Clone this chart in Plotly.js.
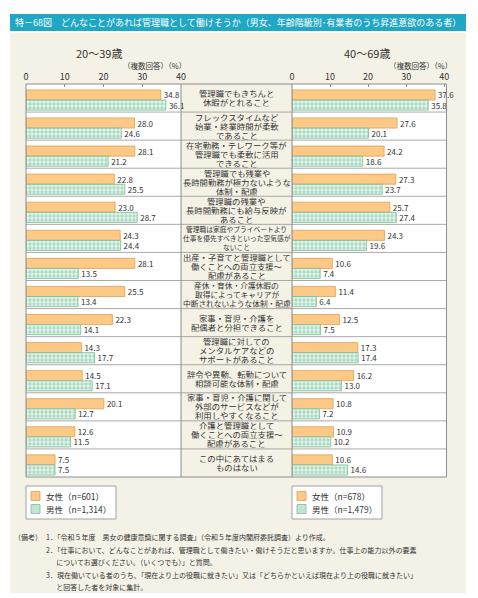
<!DOCTYPE html>
<html><head><meta charset="utf-8">
<script src="https://cdn.plot.ly/plotly-3.0.1.min.js"></script>
<style>html,body{margin:0;padding:0;background:#fff}</style>
</head><body><div id="chart" style="width:478px;height:598px"></div>
<script>
const chartTitle = '特－68図　どんなことがあれば管理職として働けそうか（男女、年齢階級別･有業者のうち昇進意欲のある者）';
const groupTitles = ['20～39歳', '40～69歳'];
const unitLabel = '（複数回答）（%）';
const categories = [
  '管理職でもきちんと<br>休暇がとれること',
  'フレックスタイムなど<br>始業・終業時間が柔軟<br>であること',
  '在宅勤務・テレワーク等が<br>管理職でも柔軟に活用<br>できること',
  '管理職でも残業や<br>長時間勤務が極力ないような<br>体制・配慮',
  '管理職の残業や<br>長時間勤務にも給与反映が<br>あること',
  '管理職は家庭やプライベートより<br>仕事を優先すべきといった空気感が<br>ないこと',
  '出産・子育てと管理職として<br>働くことへの両立支援～<br>配慮があること',
  '産休・育休・介護休暇の<br>取得によってキャリアが<br>中断されないような体制・配慮',
  '家事・育児・介護を<br>配偶者と分担できること',
  '管理職に対しての<br>メンタルケアなどの<br>サポートがあること',
  '辞令や異動、転勤について<br>相談可能な体制・配慮',
  '家事・育児・介護に関して<br>外部のサービスなどが<br>利用しやすくなること',
  '介護と管理職として<br>働くことへの両立支援～<br>配慮があること',
  'この中にあてはまる<br>ものはない'
];
const women20 = [34.8, 28.0, 28.1, 22.8, 23.0, 24.3, 28.1, 25.5, 22.3, 14.3, 14.5, 20.1, 12.6, 7.5];
const men20   = [36.1, 24.6, 21.2, 25.5, 28.7, 24.4, 13.5, 13.4, 14.1, 17.7, 17.1, 12.7, 11.5, 7.5];
const women40 = [37.6, 27.6, 24.2, 27.3, 25.7, 24.3, 10.6, 11.4, 12.5, 17.3, 16.2, 10.8, 10.9, 10.6];
const men40   = [35.8, 20.1, 18.6, 23.7, 27.4, 19.6, 7.4, 6.4, 7.5, 17.4, 13.0, 7.2, 10.2, 14.6];
const tickVals = [0, 10, 20, 30, 40];
const legendNames20 = ['女性（n=601）', '男性（n=1,314）'];
const legendNames40 = ['女性（n=678）', '男性（n=1,479）'];
const notes = [
  ['（備考）', '1．「令和５年度　男女の健康意識に関する調査」（令和５年度内閣府委託調査）より作成。'],
  ['', '2．「仕事において、どんなことがあれば、管理職として働きたい・働けそうだと思いますか。仕事上の能力以外の要素'],
  ['', '　  についてお選びください。（いくつでも）」と質問。'],
  ['', '3．現在働いている者のうち、「現在より上の役職に就きたい」又は「どちらかといえば現在より上の役職に就きたい」'],
  ['', '　  と回答した者を対象に集計。']
];

const W = 478, H = 598;
const px = x => x / W;
const py = y => 1 - y / H;
const FONT = '"Noto Sans CJK JP", "Noto Sans", sans-serif';
const ORANGE = '#fdc987', ORANGE_LINE = '#e0a055';
const GREEN_BG = '#a6d9bf', GREEN_FG = '#e4f4ea', GREEN_LINE = '#7dbb9a';

function barTrace(vals, xaxis, name, isWomen) {
  return {
    type: 'bar', orientation: 'h', x: vals, y: categories, xaxis: xaxis, yaxis: 'y',
    name: name, showlegend: false,
    width: 0.36, offset: isWomen ? -0.29 : 0.07,
    text: vals.map(v => v.toFixed(1)), textposition: 'outside',
    textfont: {size: 8, color: '#333', family: FONT},
    cliponaxis: false, constraintext: 'none', hoverinfo: 'skip',
    marker: isWomen
      ? {color: ORANGE, line: {color: ORANGE_LINE, width: 0.8}}
      : {color: GREEN_BG, line: {color: GREEN_LINE, width: 0.8},
         pattern: {shape: '.', fgcolor: GREEN_FG, bgcolor: GREEN_BG, size: 4, solidity: 0.55}}
  };
}

const data = [
  barTrace(women20, 'x', legendNames20[0], true),
  barTrace(men20, 'x', legendNames20[1], false),
  barTrace(women40, 'x2', legendNames40[0], true),
  barTrace(men40, 'x2', legendNames40[1], false)
];

const plotTop = 84, plotBot = 477;
const L0 = 26, L1 = 181, R0 = 292, R1 = 446.5;
const GRAY = '#8c8c8c';

const shapes = [
  {type: 'rect', xref: 'paper', yref: 'paper', x0: px(10), x1: px(466), y0: py(33), y1: py(593), fillcolor: '#f4f2e7', line: {width: 0}, layer: 'below'},
  {type: 'rect', xref: 'paper', yref: 'paper', x0: px(10), x1: px(466), y0: py(14), y1: py(31), fillcolor: '#1fa7c3', line: {width: 0}, layer: 'below'},
  {type: 'rect', xref: 'paper', yref: 'paper', x0: px(L0), x1: px(L1), y0: py(plotTop), y1: py(plotBot), fillcolor: '#ffffff', line: {width: 0}, layer: 'below'},
  {type: 'rect', xref: 'paper', yref: 'paper', x0: px(R0), x1: px(R1), y0: py(plotTop), y1: py(plotBot), fillcolor: '#ffffff', line: {width: 0}, layer: 'below'},
  {type: 'rect', xref: 'paper', yref: 'paper', x0: px(L1), x1: px(R0), y0: py(plotTop), y1: py(plotBot), fillcolor: '#f4f1e5', line: {width: 0}, layer: 'below'}
];
for (let k = 1; k < categories.length; k++) {
  shapes.push({type: 'line', xref: 'paper', yref: 'y', x0: px(L0), x1: px(R1), y0: k - 0.5, y1: k - 0.5, line: {color: '#a0a0a0', width: 0.9}, layer: 'above'});
}
shapes.push({type: 'rect', xref: 'paper', yref: 'paper', x0: px(L0), x1: px(R1), y0: py(plotTop), y1: py(plotBot), line: {color: GRAY, width: 1}, layer: 'above'});
shapes.push({type: 'line', xref: 'paper', yref: 'paper', x0: px(L1), x1: px(L1), y0: py(plotTop), y1: py(plotBot), line: {color: GRAY, width: 1}, layer: 'above'});
shapes.push({type: 'line', xref: 'paper', yref: 'paper', x0: px(R0), x1: px(R0), y0: py(plotTop), y1: py(plotBot), line: {color: GRAY, width: 1}, layer: 'above'});

const annotations = [];
function ann(text, x, y, size, opts) {
  annotations.push(Object.assign({text: text, x: px(x), y: py(y), xref: 'paper', yref: 'paper', showarrow: false,
    font: {size: size, color: '#333', family: FONT}, xanchor: 'center', yanchor: 'middle'}, opts || {}));
}
ann(chartTitle, 13, 22.5, 9.0, {xanchor: 'left', font: {size: 9.0, color: '#ffffff', family: FONT}});
ann(groupTitles[0], 98.5, 53, 11);
ann(groupTitles[1], 367, 53, 11);
ann(unitLabel, 188, 65.5, 7.5, {xanchor: 'right'});
ann(unitLabel, 454, 65.5, 7.5, {xanchor: 'right'});

// manual legends (box, swatch, label)
function legendBox(x0, names) {
  shapes.push({type: 'rect', xref: 'paper', yref: 'paper', x0: px(x0), x1: px(x0 + 90), y0: py(486), y1: py(519),
    fillcolor: '#ffffff', line: {color: '#a0a0a0', width: 1}, layer: 'below'});
  shapes.push({type: 'rect', xref: 'paper', yref: 'paper', x0: px(x0 + 5), x1: px(x0 + 14), y0: py(491.5), y1: py(500.5),
    fillcolor: ORANGE, line: {color: ORANGE_LINE, width: 0.8}, layer: 'above'});
  shapes.push({type: 'rect', xref: 'paper', yref: 'paper', x0: px(x0 + 5), x1: px(x0 + 14), y0: py(504.5), y1: py(513.5),
    fillcolor: '#c2e5d2', line: {color: GREEN_LINE, width: 0.8}, layer: 'above'});
  ann(names[0], x0 + 18, 496, 8.5, {xanchor: 'left'});
  ann(names[1], x0 + 18, 509, 8.5, {xanchor: 'left'});
}
legendBox(L0, legendNames20);
legendBox(R0, legendNames40);

// category labels, one annotation per line for tight line spacing
const colCenter = (L1 + R0) / 2, colWidth = R0 - L1 - 3;
const rowH = (plotBot - plotTop) / categories.length;
categories.forEach((c, i) => {
  const lines = c.split('<br>');
  const maxLen = Math.max(...lines.map(l => l.length));
  const fs = Math.min(8.4, colWidth / maxLen);
  const step = 9 / rowH;
  lines.forEach((ln, j) => {
    annotations.push({text: ln, xref: 'paper', yref: 'y', x: px(colCenter), y: i + (j - (lines.length - 1) / 2) * step,
      showarrow: false, xanchor: 'center', yanchor: 'middle', height: 8.5, borderpad: 0,
      font: {size: fs, color: '#333', family: FONT}});
  });
});

// notes
notes.forEach((n, k) => {
  const y = 537 + k * 12.6;
  if (n[0]) ann(n[0], 12, y, 7, {xanchor: 'left'});
  ann(n[1], 44, y, 7, {xanchor: 'left'});
});

const axisCommon = {side: 'top', anchor: 'y', ticks: 'inside', ticklen: 3, tickcolor: GRAY, tickwidth: 1,
  showline: false, showgrid: false, zeroline: false, tickvals: tickVals, ticktext: tickVals.map(String),
  tickfont: {size: 9, color: '#333', family: FONT}, fixedrange: true, ticklabelstandoff: 1};

const layout = {
  width: W, height: H, margin: {l: 0, r: 0, t: 0, b: 0},
  paper_bgcolor: '#ffffff', plot_bgcolor: 'rgba(0,0,0,0)',
  barmode: 'overlay', showlegend: false,
  font: {family: FONT, color: '#333'},
  xaxis: Object.assign({}, axisCommon, {domain: [px(L0), px(L1)], range: [0, 40]}),
  xaxis2: Object.assign({}, axisCommon, {domain: [px(R0), px(R1)], range: [0, 40.6]}),
  yaxis: {domain: [py(plotBot), py(plotTop)], range: [categories.length - 0.5, -0.5], type: 'category',
    categoryorder: 'array', categoryarray: categories, showticklabels: false, showgrid: false,
    zeroline: false, showline: false, ticks: '', fixedrange: true},
  shapes: shapes, annotations: annotations
};

Plotly.newPlot('chart', data, layout, {displayModeBar: false, staticPlot: true});
</script></body></html>
